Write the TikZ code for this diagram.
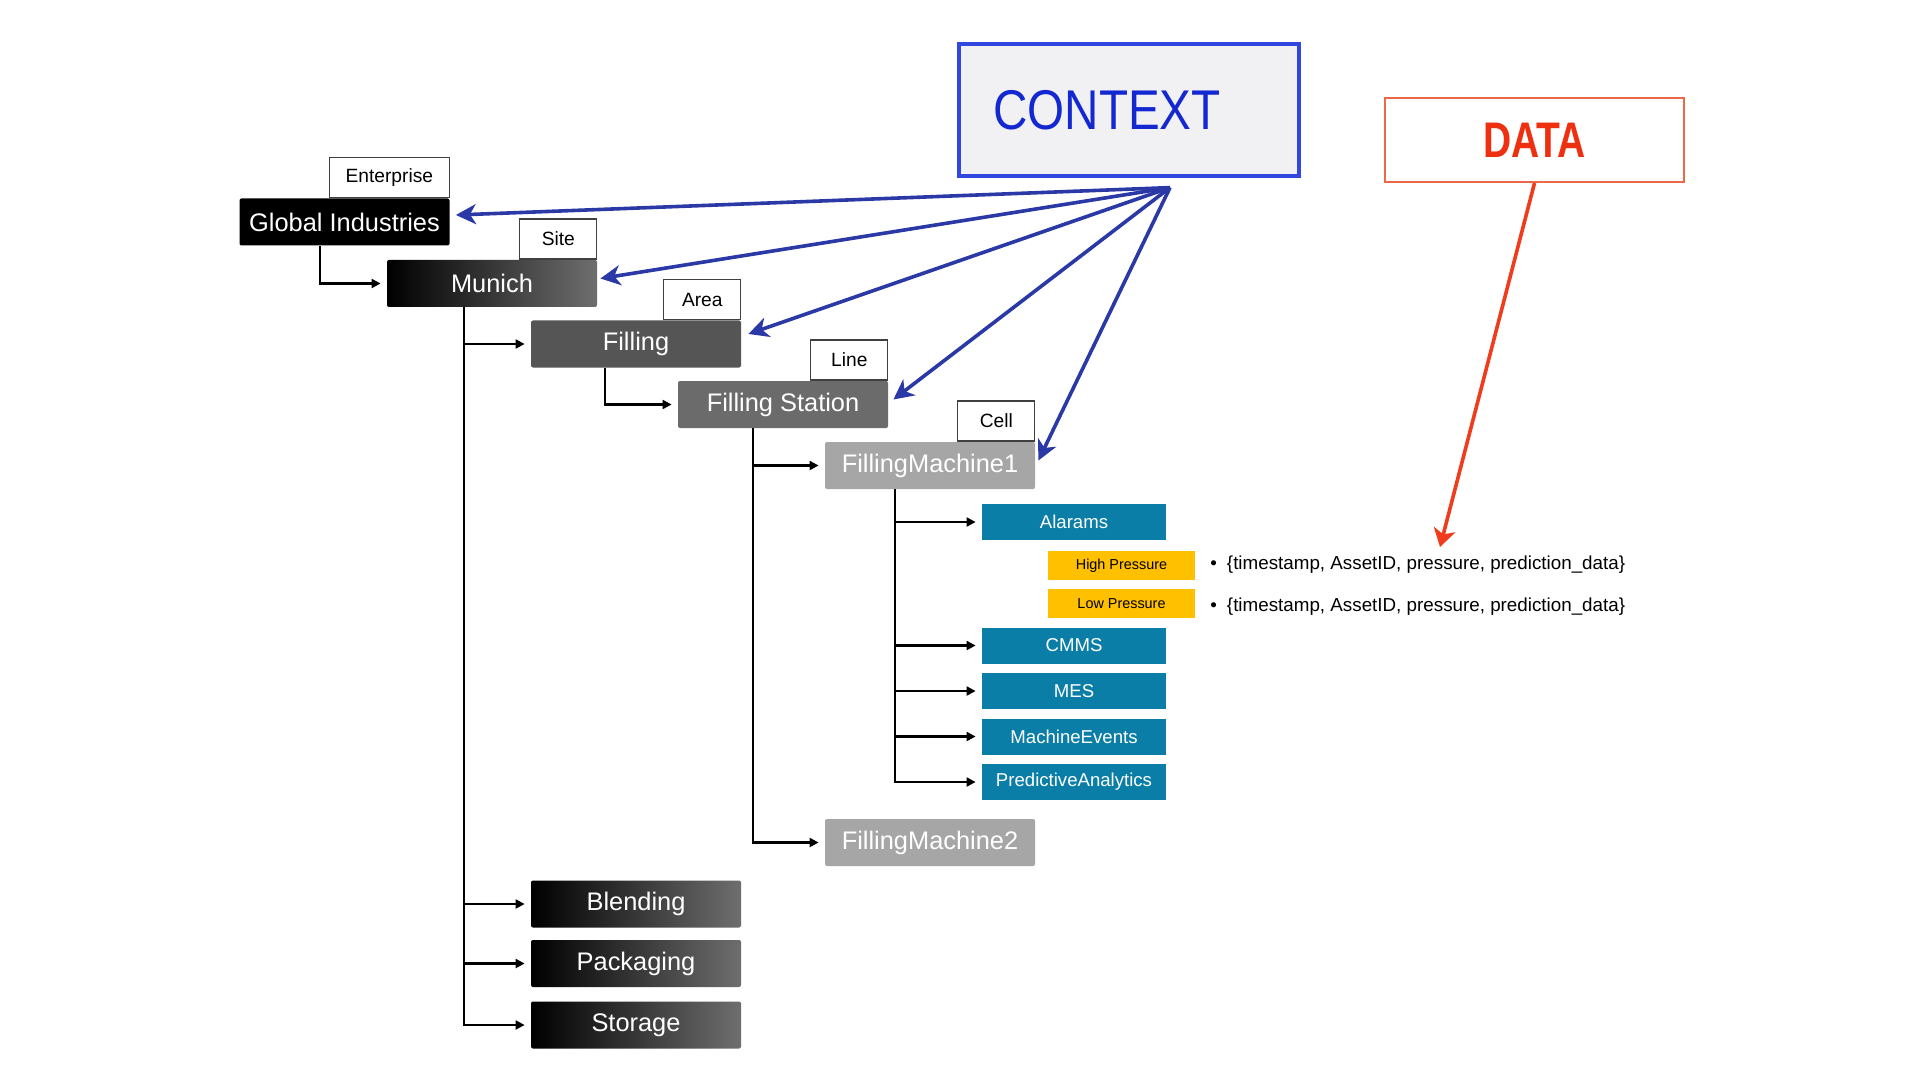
\documentclass[tikz,border=0pt]{standalone}
\usepackage{graphicx}
\usepackage{fontspec}
\setmainfont{Liberation Sans}
\usetikzlibrary{arrows.meta,calc}
\definecolor{ctxblue}{HTML}{3048E0}
\definecolor{ctxtext}{HTML}{1428D2}
\definecolor{ctxfill}{HTML}{F1F1F3}
\definecolor{arrblue}{HTML}{2A39A6}
\definecolor{datared}{HTML}{EC6848}
\definecolor{datatext}{HTML}{EE3010}
\definecolor{arrred}{HTML}{F03C1C}
\definecolor{boxteal}{HTML}{0A7EA6}
\definecolor{ambr}{HTML}{FFC000}
\definecolor{gA}{HTML}{555555}
\definecolor{gB}{HTML}{6B6B6B}
\definecolor{gC}{HTML}{A6A6A6}
\definecolor{gEnd}{HTML}{6E6E6E}
\begin{document}
\begin{tikzpicture}[x=0.5pt,y=-0.5pt,
  big/.style={rectangle, rounded corners=1pt, minimum width=105pt, minimum height=23.5pt, inner sep=0pt, text=white, font=\fontsize{12.7}{15}\selectfont},
  grad/.style={left color=black, right color=gEnd},
  lbl/.style={rectangle, draw=black!75, line width=0.6pt, fill=white, minimum width=38.5pt, minimum height=20pt, inner sep=0pt, font=\fontsize{9.6}{11}\selectfont, anchor=south east},
  tbox/.style={rectangle, fill=boxteal, minimum width=92pt, minimum height=18pt, inner sep=0pt, text=white, font=\fontsize{9.3}{11}\selectfont},
  ybox/.style={rectangle, fill=ambr, minimum width=73.5pt, minimum height=14.5pt, inner sep=0pt, font=\fontsize{7.2}{9}\selectfont},
  dtext/.style={anchor=west, inner sep=0pt, font=\fontsize{9.4}{11}\selectfont},
  conn/.style={-{Triangle[length=4.5pt,width=4.5pt]}, line width=1.05pt, shorten >=3pt},
  ctxarr/.style={-{Stealth[length=10pt,width=10pt,inset=3pt]}, line width=1.8pt, draw=arrblue},
  redarr/.style={-{Stealth[length=9pt,width=11pt,inset=2.5pt]}, line width=1.8pt, draw=arrred}
]
\useasboundingbox[fill=white] (0,0) rectangle (1920,1080);

% hierarchy boxes
\node[big, fill=black] (glob) at (344.5,222) {Global Industries};
\node[big, grad] (munich) at (492,283.5) {Munich};
\node[big, fill=gA] (filling) at (636,344) {Filling};
\node[big, fill=gB] (fstation) at (783,404.5) {Filling Station};
\node[big, fill=gC] (fm1) at (930,465.5) {FillingMachine1};
\node[big, fill=gC] (fm2) at (930,842.5) {FillingMachine2};
\node[big, grad] (blend) at (636,904) {Blending};
\node[big, grad] (pack) at (636,963.5) {Packaging};
\node[big, grad] (stor) at (636,1025) {Storage};

% level labels
\node[lbl, minimum width=60pt] (lent) at (glob.north east) {Enterprise};
\node[lbl] (lsite) at (munich.north east) {Site};
\node[lbl] (larea) at (filling.north east) {Area};
\node[lbl] (lline) at (fstation.north east) {Line};
\node[lbl] (lcell) at (fm1.north east) {Cell};

% machine children
\node[tbox] (alarms) at (1074,522) {Alarams};
\node[ybox] (hp) at (1121.5,565.5) {High Pressure};
\node[ybox] (lp) at (1121.5,603.5) {Low Pressure};
\node[tbox] (cmms) at (1074,645.5) {CMMS};
\node[tbox] (mes) at (1074,691) {MES};
\node[tbox] (mev) at (1074,736.5) {MachineEvents};
\node[tbox] (pan) at (1074,782) {PredictiveAnalytics};

% data lines
\node[dtext] (d1) at (1210,565) {\textbullet\hspace{5pt}\{timestamp, AssetID, pressure, prediction\_data\}};
\node[dtext] (d2) at (1210,606.5) {\textbullet\hspace{5pt}\{timestamp, AssetID, pressure, prediction\_data\}};

% CONTEXT and DATA
\node[draw=ctxblue, line width=1.6pt, fill=ctxfill, minimum width=170pt, minimum height=66pt, inner sep=0pt] (ctx) at (1129,110)
  {\hspace*{-22pt}\textcolor{ctxtext}{\fontsize{28}{30}\selectfont\scalebox{0.85}[1]{CONTEXT}}};
\node[draw=datared, line width=1pt, fill=white, minimum width=149.5pt, minimum height=42pt, inner sep=0pt] (data) at (1534.5,140)
  {\textcolor{datatext}{\fontsize{25}{27}\selectfont\bfseries\scalebox{0.78}[1]{DATA}}};

% tree connectors
\draw[conn] ($(glob.south west)+(81,0)$) |- (munich.west);
\coordinate (mtop) at ($(munich.south west)+(77,0)$);
\draw[conn] (mtop) |- (stor.west);
\draw[conn] (mtop |- filling.west) -- (filling.west);
\draw[conn] (mtop |- blend.west) -- (blend.west);
\draw[conn] (mtop |- pack.west) -- (pack.west);
\draw[conn] ($(filling.south west)+(74,0)$) |- (fstation.west);
\coordinate (ftop) at ($(fstation.south west)+(75,0)$);
\draw[conn] (ftop) |- (fm2.west);
\draw[conn] (ftop |- fm1.west) -- (fm1.west);
\coordinate (ctop) at ($(fm1.south west)+(70,0)$);
\draw[conn] (ctop) |- (pan.west);
\draw[conn] (ctop |- alarms.west) -- (alarms.west);
\draw[conn] (ctop |- cmms.west) -- (cmms.west);
\draw[conn] (ctop |- mes.west) -- (mes.west);
\draw[conn] (ctop |- mev.west) -- (mev.west);

% context arrows
\coordinate (hub) at ($(ctx.south)+(41,10)$);
\draw[ctxarr] (hub) -- ($(glob.east)+(6,-7)$);
\draw[ctxarr] (hub) -- ($(munich.east)+(3,-5)$);
\draw[ctxarr] (hub) -- ($(filling.east)+(7,-10)$);
\draw[ctxarr] (hub) -- ($(fstation.east)+(5,-5)$);
\draw[ctxarr] (hub) -- ($(fm1.east)+(3,-5)$);

% data arrow
\coordinate (dtip) at (1440,547);
\draw[redarr] (data.south) -- (dtip);
\end{tikzpicture}
\end{document}
